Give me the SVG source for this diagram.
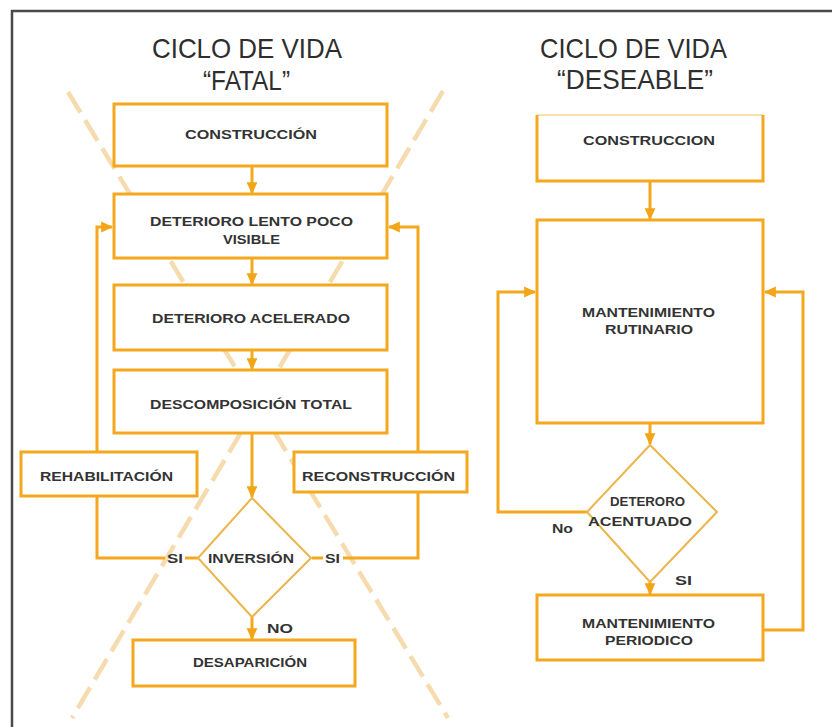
<svg xmlns="http://www.w3.org/2000/svg" width="832" height="727" viewBox="0 0 832 727">
<defs>
<marker id="ah" markerUnits="userSpaceOnUse" markerWidth="12" markerHeight="12" viewBox="0 0 10 10" refX="9" refY="5" orient="auto">
<path d="M0,0.5 L10,5 L0,9.5 z" fill="#f2a516"/>
</marker>
<style>
.box{fill:#fff;stroke:#f4a81d;stroke-width:3}
.dia{fill:#fff;stroke:#ebb54c;stroke-width:2}
.ln{fill:none;stroke:#f4a81d;stroke-width:3}
.x{fill:none;stroke:#f2cf92;stroke-width:4.5;stroke-dasharray:24 9;opacity:0.75}
.ttl{font-family:"Liberation Sans",Arial,sans-serif;font-size:28px;fill:#2e2e2e}
.lb{font-family:"Liberation Sans",Arial,sans-serif;font-size:12px;font-weight:bold;fill:#333}
</style>
</defs>
<rect width="832" height="727" fill="#fff"/>
<path d="M12,727 V11 H832" fill="none" stroke="#4a4a4a" stroke-width="2.5"/>

<g id="cross">
<line class="x" x1="68" y1="92" x2="448" y2="718"/>
<line class="x" x1="443" y1="91" x2="72" y2="718"/>
</g>

<g id="titles">
<text class="ttl" x="152" y="58" textLength="190" lengthAdjust="spacingAndGlyphs">CICLO DE VIDA</text>
<text class="ttl" x="203" y="90" textLength="87" lengthAdjust="spacingAndGlyphs">“FATAL”</text>
<text class="ttl" x="540" y="58" textLength="187" lengthAdjust="spacingAndGlyphs">CICLO DE VIDA</text>
<text class="ttl" x="557" y="89" textLength="156" lengthAdjust="spacingAndGlyphs">“DESEABLE”</text>
</g>

<g id="connectors">
<line class="ln" x1="252" y1="166" x2="252" y2="193" marker-end="url(#ah)"/>
<line class="ln" x1="252" y1="258" x2="252" y2="284" marker-end="url(#ah)"/>
<line class="ln" x1="252" y1="350" x2="252" y2="369" marker-end="url(#ah)"/>
<line class="ln" x1="252" y1="433" x2="252" y2="497" marker-end="url(#ah)"/>
<line class="ln" x1="252" y1="617" x2="252" y2="639" marker-end="url(#ah)"/>
<path class="ln" d="M165,558 H97 V227 H112" marker-end="url(#ah)"/>
<path class="ln" d="M198,558 H185"/>
<path class="ln" d="M312,558 H323"/>
<path class="ln" d="M343,558 H418 V227 H389" marker-end="url(#ah)"/>
<line class="ln" x1="650" y1="181" x2="650" y2="219" marker-end="url(#ah)"/>
<line class="ln" x1="650" y1="423" x2="650" y2="444" marker-end="url(#ah)"/>
<line class="ln" x1="650" y1="582" x2="650" y2="594" marker-end="url(#ah)"/>
<path class="ln" d="M587,512 H498 V292 H535" marker-end="url(#ah)"/>
<path class="ln" d="M763,630 H803 V292 H765" marker-end="url(#ah)"/>
</g>

<g id="n-construccion-f">
<rect class="box" x="114" y="104" width="273" height="62"/>
<text class="lb" x="185" y="139" textLength="132" lengthAdjust="spacingAndGlyphs">CONSTRUCCIÓN</text>
</g>
<g id="n-lento">
<rect class="box" x="114" y="194" width="273" height="64"/>
<text class="lb" x="150" y="226" textLength="203" lengthAdjust="spacingAndGlyphs">DETERIORO LENTO POCO</text>
<text class="lb" x="223" y="244" textLength="57" lengthAdjust="spacingAndGlyphs">VISIBLE</text>
</g>
<g id="n-acelerado">
<rect class="box" x="114" y="285" width="273" height="65"/>
<text class="lb" x="152" y="323" textLength="198" lengthAdjust="spacingAndGlyphs">DETERIORO ACELERADO</text>
</g>
<g id="n-descomposicion">
<rect class="box" x="114" y="370" width="273" height="63"/>
<text class="lb" x="150" y="409" textLength="202" lengthAdjust="spacingAndGlyphs">DESCOMPOSICIÓN TOTAL</text>
</g>
<g id="n-rehabilitacion">
<rect class="box" x="21" y="452" width="176" height="44"/>
<text class="lb" x="40" y="481" textLength="133" lengthAdjust="spacingAndGlyphs">REHABILITACIÓN</text>
</g>
<g id="n-reconstruccion">
<rect class="box" x="294" y="452" width="173" height="40"/>
<text class="lb" x="302" y="481" textLength="153" lengthAdjust="spacingAndGlyphs">RECONSTRUCCIÓN</text>
</g>
<g id="n-inversion">
<polygon class="dia" points="252,498 311,558 252,617 198,558"/>
<text class="lb" x="208" y="563" textLength="86" lengthAdjust="spacingAndGlyphs">INVERSIÓN</text>
<text class="lb" x="167" y="563" textLength="16" lengthAdjust="spacingAndGlyphs">SI</text>
<text class="lb" x="325" y="563" textLength="15" lengthAdjust="spacingAndGlyphs">SI</text>
<text class="lb" x="267" y="633" textLength="26" lengthAdjust="spacingAndGlyphs">NO</text>
</g>
<g id="n-desaparicion">
<rect class="box" x="133" y="640" width="222" height="46"/>
<text class="lb" x="193" y="667" textLength="114" lengthAdjust="spacingAndGlyphs">DESAPARICIÓN</text>
</g>

<g id="n-construccion-d">
<rect x="537" y="115" width="226" height="66" fill="#fff"/>
<line x1="537" y1="115" x2="763" y2="115" stroke="#f4a81d" stroke-width="2" opacity="0.35"/>
<path class="ln" d="M537,115 V181 H763 V115"/>
<text class="lb" x="583" y="145" textLength="132" lengthAdjust="spacingAndGlyphs">CONSTRUCCION</text>
</g>
<g id="n-rutinario">
<rect class="box" x="537" y="220" width="226" height="203"/>
<text class="lb" x="582" y="317" textLength="133" lengthAdjust="spacingAndGlyphs">MANTENIMIENTO</text>
<text class="lb" x="605" y="334" textLength="88" lengthAdjust="spacingAndGlyphs">RUTINARIO</text>
</g>
<g id="n-acentuado">
<polygon class="dia" points="650,445 717,512 650,582 587,512"/>
<text class="lb" x="610" y="506" textLength="75" lengthAdjust="spacingAndGlyphs">DETERORO</text>
<text class="lb" x="588" y="526" textLength="104" lengthAdjust="spacingAndGlyphs">ACENTUADO</text>
<text class="lb" x="552" y="533" textLength="21" lengthAdjust="spacingAndGlyphs">No</text>
<text class="lb" x="675" y="585" textLength="17" lengthAdjust="spacingAndGlyphs">SI</text>
</g>
<g id="n-periodico">
<rect class="box" x="537" y="595" width="226" height="65"/>
<text class="lb" x="582" y="628" textLength="133" lengthAdjust="spacingAndGlyphs">MANTENIMIENTO</text>
<text class="lb" x="605" y="645" textLength="88" lengthAdjust="spacingAndGlyphs">PERIODICO</text>
</g>
</svg>
